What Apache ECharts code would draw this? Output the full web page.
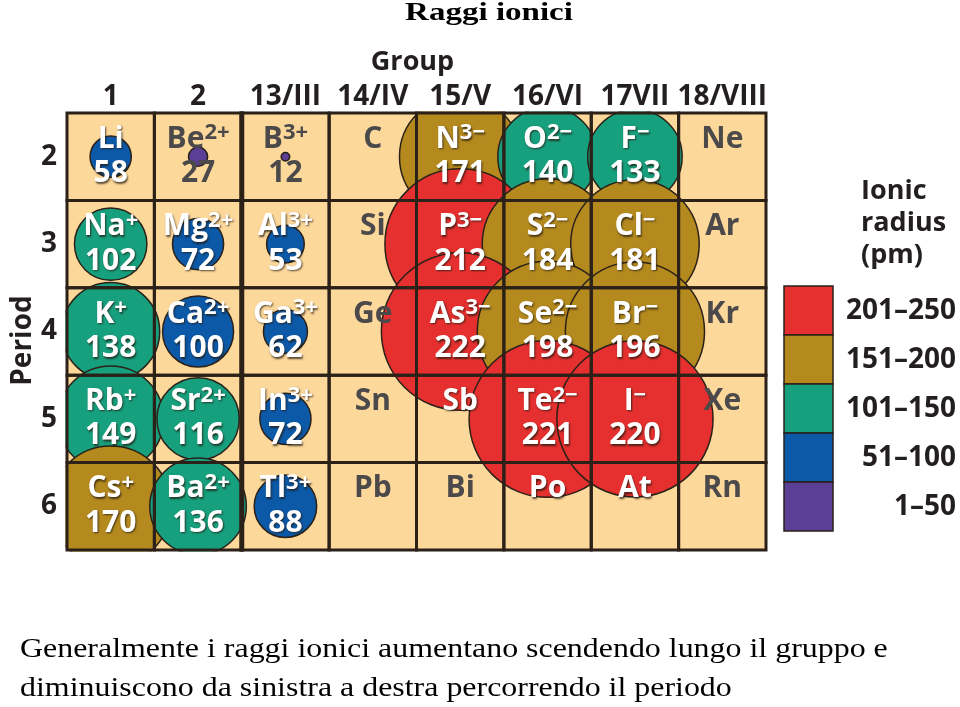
<!DOCTYPE html>
<html>
<head>
<meta charset="utf-8">
<script src="https://cdn.jsdelivr.net/npm/echarts@6/dist/echarts.min.js"></script>
<style>html,body{margin:0;padding:0;background:#fff}#c{width:960px;height:707px}</style>
</head>
<body>
<div id="c"></div>
<script>
// ---- data ----
const groups = ['1', '2', '13/III', '14/IV', '15/V', '16/VI', '17VII', '18/VIII'];
const periods = ['2', '3', '4', '5', '6'];
const symbols = [
  ['Li', 'Be', 'B', 'C', 'N', 'O', 'F', 'Ne'],
  ['Na', 'Mg', 'Al', 'Si', 'P', 'S', 'Cl', 'Ar'],
  ['K', 'Ca', 'Ga', 'Ge', 'As', 'Se', 'Br', 'Kr'],
  ['Rb', 'Sr', 'In', 'Sn', 'Sb', 'Te', 'I', 'Xe'],
  ['Cs', 'Ba', 'Tl', 'Pb', 'Bi', 'Po', 'At', 'Rn']
];
const charges = [
  ['', '2+', '3+', '', '3−', '2−', '−', ''],
  ['+', '2+', '3+', '', '3−', '2−', '−', ''],
  ['+', '2+', '3+', '', '3−', '2−', '−', ''],
  ['+', '2+', '3+', '', '', '2−', '−', ''],
  ['+', '2+', '3+', '', '', '', '', '']
];
const radii = [
  [58, 27, 12, null, 171, 140, 133, null],
  [102, 72, 53, null, 212, 184, 181, null],
  [138, 100, 62, null, 222, 198, 196, null],
  [149, 116, 72, null, null, 221, 220, null],
  [170, 136, 88, null, null, null, null, null]
];
const rangeLabels = ['201–250', '151–200', '101–150', '51–100', '1–50'];
const rangeMin = [201, 151, 101, 51, 1];
const rangeMax = [250, 200, 150, 100, 50];
const rangeColors = ['#e5302f', '#b48a1f', '#17a07e', '#0c59a8', '#5b3e95'];

// ---- layout ----
const GL = 67, GT = 113, GW = 699, GH = 437;
const CELL = GW / groups.length;
const K = 0.71;              // px of diameter per pm
const LABEL_DY = -15;        // px offset of the symbol line from the cell centre
const FONT = '"Open Sans", "DejaVu Sans", sans-serif';
const DARK = '#231f20';
const GRAY = '#4b494a';
const LINE = '#2b2118';

const ions = [];
radii.forEach((row, r) => row.forEach((v, c) => { if (v != null) ions.push({ c, r, v }); }));

function labelOnCircle(c, r) {
  return ions.some(o => {
    const dx = (c - o.c) * CELL, dy = (r - o.r) * CELL + LABEL_DY;
    return Math.sqrt(dx * dx + dy * dy) < o.v * K / 2;
  });
}

const cells = [];
const labelData = [];
symbols.forEach((row, r) => row.forEach((s, c) => {
  cells.push([c, r]);
  labelData.push({
    value: [c, r],
    sym: s,
    chg: charges[r][c],
    num: radii[r][c] == null ? '' : String(radii[r][c]),
    white: labelOnCircle(c, r)
  });
}));

function richSet(color, shadow) {
  const sh = shadow ? { textShadowColor: 'rgba(35,25,15,0.75)', textShadowBlur: 2, textShadowOffsetX: 1, textShadowOffsetY: 1.5 } : {};
  return {
    s: Object.assign({ fontSize: 30, fontWeight: 'bold', fontFamily: FONT, lineHeight: 34, color }, sh),
    c: Object.assign({ fontSize: 22, fontWeight: 'bold', fontFamily: FONT, lineHeight: 16, verticalAlign: 'top', color }, sh),
    n: Object.assign({ fontSize: 30, fontWeight: 'bold', fontFamily: FONT, lineHeight: 35, color }, sh)
  };
}
const rw = richSet('#ffffff', true), rg = richSet(GRAY, false);
const rich = { sw: rw.s, cw: rw.c, nw: rw.n, sg: rg.s, cg: rg.c, ng: rg.n };

const graphics = [];
// white frame outside the table (clips the circles to the table)
[
  { x: 0, y: 0, width: 960, height: GT - 1.5 },
  { x: 0, y: 0, width: GL - 1.5, height: 707 },
  { x: 0, y: GT + GH + 1.5, width: 960, height: 707 - (GT + GH + 1.5) },
  { x: GL + GW + 1.5, y: 0, width: 960 - (GL + GW + 1.5), height: 707 }
].forEach(sh => graphics.push({ type: 'rect', z: 3, silent: true, shape: sh, style: { fill: '#ffffff' } }));
// legend
rangeLabels.forEach((t, i) => {
  graphics.push({ type: 'rect', z: 10, shape: { x: 784, y: 286 + i * 49, width: 49, height: 49 }, style: { fill: rangeColors[i], stroke: LINE, lineWidth: 1.5 } });
  graphics.push({ type: 'text', z: 10, style: { x: 956, y: 286 + i * 49 + 25, text: t, fill: DARK, font: 'bold 28px ' + FONT, textAlign: 'right', textVerticalAlign: 'middle' } });
});
graphics.push({ type: 'text', z: 10, style: { x: 861, y: 175, text: 'Ionic\nradius\n(pm)', fill: DARK, font: 'bold 27px ' + FONT, lineHeight: 32, textAlign: 'left', textVerticalAlign: 'top' } });
graphics.push({ type: 'text', z: 10, x: 489, y: 13, scaleX: 1.27, style: { x: 0, y: 0, text: 'Raggi ionici', fill: '#000', font: 'bold 26px "Liberation Serif", serif', textAlign: 'center', textVerticalAlign: 'middle' } });
graphics.push({ type: 'text', z: 10, x: 20, y: 650, scaleX: 1.14, style: { x: 0, y: 0, text: 'Generalmente i raggi ionici aumentano scendendo lungo il gruppo e', fill: '#000', font: '28px "Liberation Serif", serif', textAlign: 'left', textVerticalAlign: 'middle' } });
graphics.push({ type: 'text', z: 10, x: 20, y: 689, scaleX: 1.14, style: { x: 0, y: 0, text: 'diminuiscono da sinistra a destra percorrendo il periodo', fill: '#000', font: '28px "Liberation Serif", serif', textAlign: 'left', textVerticalAlign: 'middle' } });

const chart = echarts.init(document.getElementById('c'), null, { renderer: 'canvas' });
chart.setOption({
  animation: false,
  backgroundColor: '#ffffff',
  grid: { left: GL, top: GT, width: GW, height: GH, show: true, backgroundColor: '#fdd89b', borderWidth: 0, containLabel: false, outerBoundsMode: 'none' },
  xAxis: {
    type: 'category', data: groups, position: 'top', z: 6,
    axisLine: { show: false }, axisTick: { show: false }, splitLine: { show: false },
    axisLabel: { interval: 0, margin: 2, fontSize: 28, fontWeight: 'bold', color: DARK, fontFamily: FONT },
    name: 'Group', nameLocation: 'middle', nameGap: 37, nameMoveOverlap: false,
    nameTextStyle: { fontSize: 27, fontWeight: 'bold', color: DARK, fontFamily: FONT, padding: [0, 8, 0, 0] }
  },
  yAxis: {
    type: 'category', data: periods, inverse: true, z: 6,
    axisLine: { show: false }, axisTick: { show: false }, splitLine: { show: false },
    axisLabel: { margin: 10, fontSize: 28, fontWeight: 'bold', color: DARK, fontFamily: FONT },
    name: 'Period', nameLocation: 'middle', nameGap: 30, nameRotate: 90, nameMoveOverlap: false,
    nameTextStyle: { fontSize: 28, fontWeight: 'bold', color: DARK, fontFamily: FONT, padding: [0, 18, 0, 0] }
  },
  visualMap: {
    type: 'piecewise', show: false, seriesIndex: 0, dimension: 2,
    pieces: rangeMin.map((mn, i) => ({ min: mn, max: rangeMax[i], color: rangeColors[i] }))
  },
  graphic: graphics,
  series: [
    {
      type: 'scatter', z: 2, silent: true,
      data: ions.map(o => [o.c, o.r, o.v]),
      symbolSize: v => v[2] * K,
      itemStyle: { opacity: 1, borderColor: LINE, borderWidth: 1.5 }
    },
    {
      type: 'custom', z: 4, silent: true,
      data: cells,
      renderItem: (params, api) => {
        const p = api.coord([api.value(0), api.value(1)]);
        const s = api.size([1, 1]);
        const x0 = p[0] - s[0] / 2, y0 = p[1] - s[1] / 2;
        const children = [{ type: 'rect', shape: { x: x0, y: y0, width: s[0], height: s[1] }, style: { fill: 'none', stroke: LINE, lineWidth: 3 } }];
        if (api.value(0) === 2) {
          children.push({ type: 'line', shape: { x1: x0, y1: y0 - 1.5, x2: x0, y2: y0 + s[1] + 1.5 }, style: { stroke: LINE, lineWidth: 5 } });
        }
        return { type: 'group', children };
      }
    },
    {
      type: 'scatter', z: 5, silent: true,
      data: labelData,
      symbolSize: 2, itemStyle: { color: 'rgba(0,0,0,0)', opacity: 1 },
      label: {
        show: true, position: 'inside', offset: [0, 3], rich,
        formatter: p => {
          const d = p.data, t = d.white ? 'w' : 'g';
          let s = '{s' + t + '|' + d.sym + '}';
          if (d.chg) s += '{c' + t + '|' + d.chg + '}';
          s += '\n{n' + t + '|' + (d.num || ' ') + '}';
          return s;
        }
      },
      labelLayout: { hideOverlap: false }
    }
  ]
});
</script>
</body>
</html>
